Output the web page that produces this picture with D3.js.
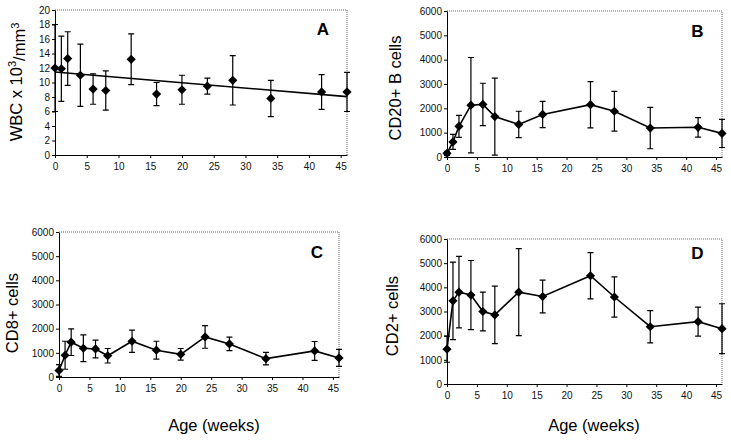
<!DOCTYPE html>
<html><head><meta charset="utf-8">
<script src="https://cdn.jsdelivr.net/npm/d3@7"></script>
<style>
html,body{margin:0;padding:0;background:#fff;}
svg{display:block;font-family:"Liberation Sans",Arial,sans-serif;}
</style></head>
<body>
<svg id="chart" width="731" height="444"></svg>
<script>
// ---- data ----
const agesAC = [0,1,2,4,6,8,12,16,20,24,28,34,42,46];
const agesBD = [0,1,2,4,6,8,12,16,24,28,34,42,46];
const wbcMean = [12.0,11.9,13.3,11.0,9.1,8.9,13.2,8.4,9.0,9.5,10.3,7.8,8.7,8.7];
const wbcSD   = [6.0,4.5,3.7,4.3,2.1,2.7,3.5,1.6,2.0,1.1,3.4,2.5,2.4,2.7];
const wbcTrend = [[0,11.45],[46,8.05]];
const cd20Mean = [150,620,1260,2130,2160,1660,1340,1750,2150,1880,1190,1220,970];
const cd20SD   = [80,310,450,1960,870,1580,540,540,950,820,850,400,580];
const cd8Mean = [270,900,1440,1190,1160,880,1480,1110,940,1660,1370,760,1080,790];
const cd8SD   = [240,580,550,555,365,300,460,370,240,470,280,260,390,350];
const cd2Mean = [1440,3440,3800,3680,3000,2860,3800,3620,4480,3600,2370,2580,2290];
const cd2SD   = [540,1600,1480,1430,800,1190,1800,680,960,830,670,600,1030];
const xTicks = [0,5,10,15,20,25,30,35,40,45];
const yTicksA = [0,2,4,6,8,10,12,14,16,18,20];
const yTicksCells = [0,1000,2000,3000,4000,5000,6000];
const xTitle = "Age (weeks)";

const svg = d3.select("#chart");

const panels = [
  {letter:"A", ages:agesAC, mean:wbcMean, sd:wbcSD, ymax:20, yticks:yTicksA, connect:false, trend:wbcTrend,
   box:[55,347,10,155], letterPos:[323,35], title:null, titlePos:[22,82]},
  {letter:"B", ages:agesBD, mean:cd20Mean, sd:cd20SD, ymax:6000, yticks:yTicksCells, connect:true,
   box:[447,722,11,157], letterPos:[697.5,37], title:"CD20+ B cells", titlePos:[401,88]},
  {letter:"C", ages:agesAC, mean:cd8Mean, sd:cd8SD, ymax:6000, yticks:yTicksCells, connect:true,
   box:[59,339,232,377], letterPos:[317,258], title:"CD8+ cells", titlePos:[18,313], xtitle:[214,431]},
  {letter:"D", ages:agesBD, mean:cd2Mean, sd:cd2SD, ymax:6000, yticks:yTicksCells, connect:true,
   box:[447,722,239,384], letterPos:[697.5,259], title:"CD2+ cells", titlePos:[398,316], xtitle:[594,431]}
];

panels.forEach(p => {
  const [x0,x1,y0,y1] = p.box;
  const x = d3.scaleLinear().domain([0,46]).range([x0,x1]);
  const y = d3.scaleLinear().domain([0,p.ymax]).range([y1,y0]);
  const g = svg.append("g");

  // dotted frame (top/right)
  g.append("path")
    .attr("d", `M${x0},${y0}H${x1}V${y1}`)
    .attr("fill","none").attr("stroke","#666").attr("stroke-width",1)
    .attr("stroke-dasharray","1,1");

  // axes
  const ya = g.append("g").attr("transform",`translate(${x0},0)`)
    .call(d3.axisLeft(y).tickValues(p.yticks).tickFormat(d3.format("d")).tickSize(3).tickPadding(2).tickSizeOuter(0));
  const xa = g.append("g").attr("transform",`translate(0,${y1})`)
    .call(d3.axisBottom(x).tickValues(xTicks).tickFormat(d3.format("d")).tickSize(3).tickPadding(5).tickSizeOuter(0));
  [ya,xa].forEach(a => {
    a.selectAll("text").attr("font-size","10px").attr("fill","#111")
      .attr("font-family","'Liberation Sans',Arial,sans-serif");
    a.select(".domain").attr("stroke","#000");
    a.selectAll(".tick line").attr("stroke","#000");
  });

  const pts = p.ages.map((a,i) => ({a, m:p.mean[i], s:p.sd[i]}));

  // error bars
  const eb = g.append("g").attr("stroke","#000").attr("stroke-width",1.2).attr("fill","none");
  pts.forEach(d => {
    const xx = x(d.a), yt = y(d.m + d.s), yb = y(Math.max(0,d.m - d.s));
    eb.append("path").attr("d",
      `M${xx},${yt}V${yb}M${xx-3},${yt}H${xx+3}M${xx-3},${yb}H${xx+3}`);
  });

  // connecting line or trend
  if (p.connect) {
    g.append("path").datum(pts)
      .attr("d", d3.line().x(d=>x(d.a)).y(d=>y(d.m)))
      .attr("fill","none").attr("stroke","#000").attr("stroke-width",1.6);
  }
  if (p.trend) {
    g.append("path").datum(p.trend)
      .attr("d", d3.line().x(d=>x(d[0])).y(d=>y(d[1])))
      .attr("fill","none").attr("stroke","#000").attr("stroke-width",1.6);
  }

  // diamonds
  const r = 4.6;
  g.append("g").selectAll("path").data(pts).join("path")
    .attr("d", d => `M${x(d.a)},${y(d.m)-r}L${x(d.a)+r},${y(d.m)}L${x(d.a)},${y(d.m)+r}L${x(d.a)-r},${y(d.m)}Z`)
    .attr("fill","#000");

  // panel letter
  g.append("text").attr("x",p.letterPos[0]).attr("y",p.letterPos[1])
    .attr("text-anchor","middle").attr("font-size","17px").attr("font-weight","bold")
    .text(p.letter);

  // y title
  const t = g.append("text")
    .attr("transform",`translate(${p.titlePos[0]},${p.titlePos[1]}) rotate(-90)`)
    .attr("text-anchor","middle").attr("font-size","16.5px").attr("fill","#000");
  if (p.title) {
    t.text(p.title);
  } else {
    t.append("tspan").text("WBC x 10");
    t.append("tspan").attr("font-size","11px").attr("dy","-0.55em").text("3");
    t.append("tspan").attr("dy","0.55em").text("/mm");
    t.append("tspan").attr("font-size","11px").attr("dy","-0.55em").text("3");
  }

  if (p.xtitle) {
    g.append("text").attr("x",p.xtitle[0]).attr("y",p.xtitle[1])
      .attr("text-anchor","middle").attr("font-size","16.5px").text(xTitle);
  }
});
</script>
</body></html>
